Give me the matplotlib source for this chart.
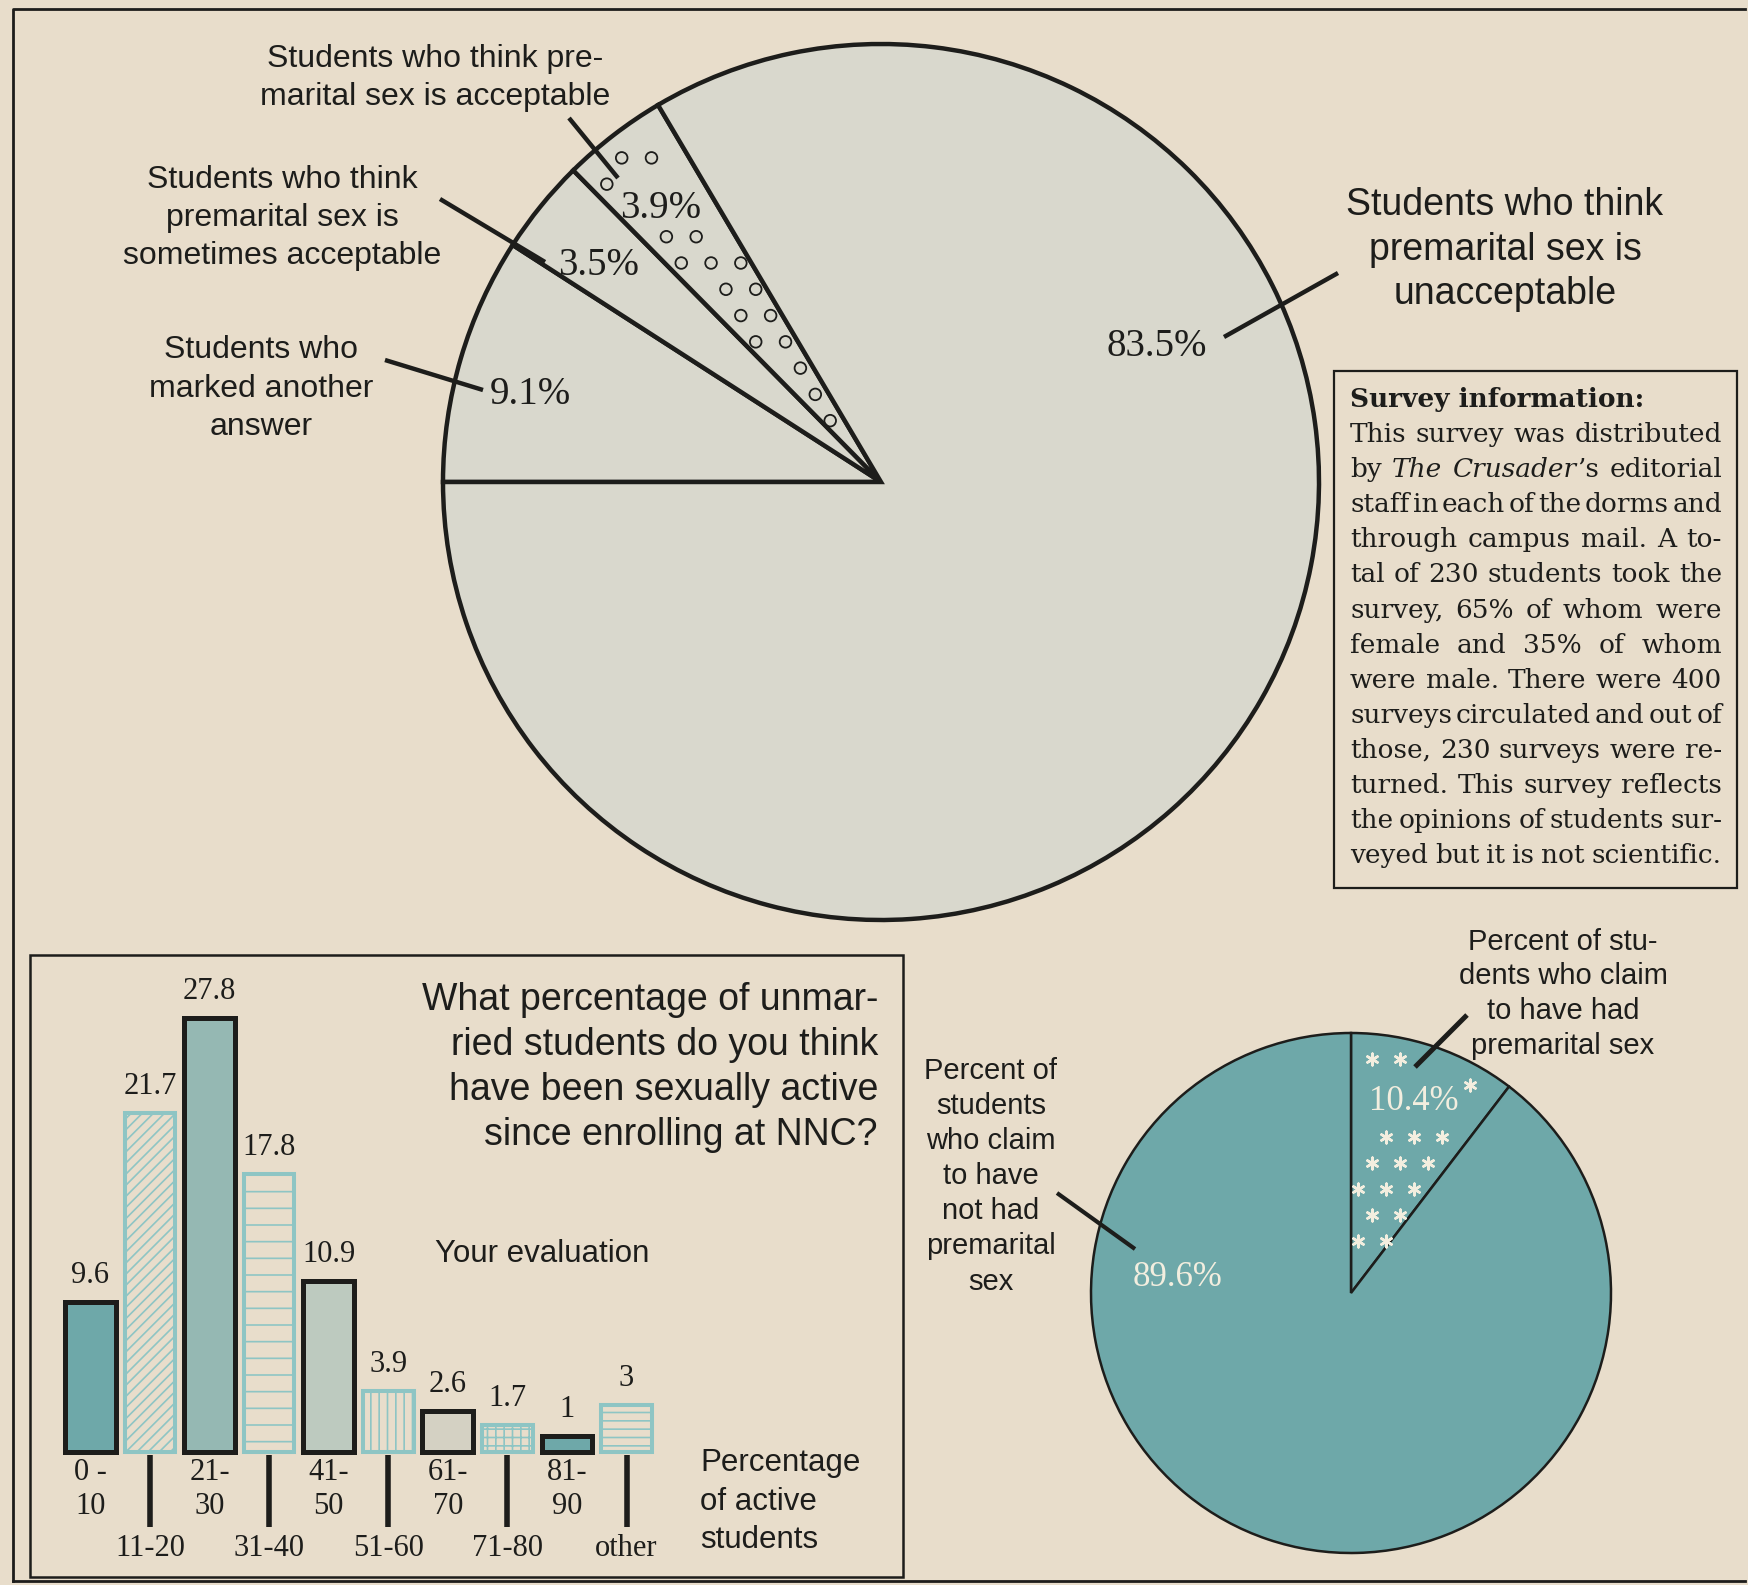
import numpy as np
import matplotlib.pyplot as plt
from matplotlib.patches import Rectangle, Wedge
from matplotlib.transforms import blended_transform_factory

W, H = 1748, 1585

# is premarital sex acceptable?  (other answer, sometimes, acceptable, unacceptable)
opinion_pct = [9.1, 3.5, 3.9, 83.5]
# students who claim to have had premarital sex  (had, not had)
active_pct = [10.4, 89.6]
# "what percentage of unmarried students ... sexually active"
guess_bins = ['0 -\n10', '11-20', '21-\n30', '31-40', '41-\n50',
              '51-60', '61-\n70', '71-80', '81-\n90', 'other']
guess_vals = [9.6, 21.7, 27.8, 17.8, 10.9, 3.9, 2.6, 1.7, 1, 3]

survey_head = 'Survey information:'
survey_lines = [
    'This survey was distributed',
    'by _The_ _Crusader_\u2019s editorial',
    'staff in each of the dorms and',
    'through campus mail.  A to-',
    'tal of 230 students took the',
    'survey, 65% of whom were',
    'female and 35% of whom',
    'were male.  There were 400',
    'surveys circulated and out of',
    'those, 230 surveys were re-',
    'turned.  This survey reflects',
    'the opinions of students sur-',
    'veyed but it is not scientific.',
]

SANS = 'Liberation Sans'
SERIF = 'Liberation Serif'
BOX_SERIF = 'DejaVu Serif'
PAPER = '#e8ddcb'
PIE_GRAY = '#d9d8cd'
TEAL = '#6ea8a9'
LTEAL = '#8ec5c4'
INK = '#1d1d1b'
STAR = '#f3eedf'

plt.rcParams['hatch.linewidth'] = 1.2

fig = plt.figure(figsize=(W / 100, H / 100), dpi=100)
fig.patch.set_facecolor(PAPER)

# background layer (pixel coords, y down)
bg = fig.add_axes([0, 0, 1, 1], zorder=0)
bg.set_xlim(0, W)
bg.set_ylim(H, 0)
bg.axis('off')
# foreground layer for text and leader lines
fg = fig.add_axes([0, 0, 1, 1], zorder=10)
fg.set_xlim(0, W)
fg.set_ylim(H, 0)
fg.axis('off')

# frames
bg.plot([13, 13, W - 3], [1581, 9, 9], color=INK, lw=2)
bg.plot([13, W - 3], [1581, 1581], color=INK, lw=2)
bg.add_patch(Rectangle((30, 955), 873, 622, fill=False, ec=INK, lw=1.8))
bg.add_patch(Rectangle((1334, 371), 403, 517, fill=False, ec=INK, lw=1.6))


def pie_axes(cx, cy, r, pad=1.04):
    rr = r * pad
    a = fig.add_axes([(cx - rr) / W, (H - cy - rr) / H, 2 * rr / W, 2 * rr / H], zorder=2)
    return a, pad


def pattern_points(wedge, r_out, r_in, inset, step_x, step_y, avoid, avoid_half):
    # lattice of decoration points that fall inside a slice, away from its label
    area = Wedge((0, 0), r_out, wedge.theta1 + inset, wedge.theta2 - inset, width=r_out - r_in)
    gx, gy = np.meshgrid(np.arange(-1, 1, step_x), np.arange(-1, 1, step_y))
    gx[::2] += step_x / 2
    pts = np.c_[gx.ravel(), gy.ravel()]
    keep = area.get_path().contains_points(pts)
    keep &= ~((np.abs(pts[:, 0] - avoid[0]) < avoid_half[0]) &
              (np.abs(pts[:, 1] - avoid[1]) < avoid_half[1]))
    return pts[keep]


# ---- big pie
BC, BR = (881, 482), 438
pa, pad = pie_axes(BC[0], BC[1], BR)
wedges, _ = pa.pie(opinion_pct, startangle=180, counterclock=False,
                   colors=[PIE_GRAY] * 4,
                   wedgeprops=dict(edgecolor=INK, linewidth=3.2))
pa.set_xlim(-pad, pad)
pa.set_ylim(-pad, pad)
pa.axis('off')

pct_pos = [(530, 390), (599, 261), (661, 204), (1157, 342)]
lab = pct_pos[2]
pts = pattern_points(wedges[2], 0.95, 0.12, 2.0, 0.068, 0.06,
                     ((lab[0] - BC[0]) / BR, (BC[1] - lab[1]) / BR), (0.115, 0.058))
pa.scatter(pts[:, 0], pts[:, 1], s=70, facecolors='none', edgecolors=INK, linewidths=1.3)

# ---- small pie
SC, SR = (1351, 1293), 260
sa, spad = pie_axes(SC[0], SC[1], SR)
swedges, _ = sa.pie(active_pct, startangle=90, counterclock=False,
                    colors=[TEAL, TEAL],
                    wedgeprops=dict(edgecolor=INK, linewidth=1.8))
sa.set_xlim(-spad, spad)
sa.set_ylim(-spad, spad)
sa.axis('off')

spct_pos = [(1414, 1098), (1178, 1273)]
lab = spct_pos[0]
pts = pattern_points(swedges[0], 0.94, 0.1, 2.5, 0.108, 0.1,
                     ((lab[0] - SC[0]) / SR, (SC[1] - lab[1]) / SR), (0.19, 0.08))
sa.scatter(pts[:, 0], pts[:, 1], s=70, marker=(6, 2, 0), color=STAR, linewidths=1.8)

# ---- bar chart
base_y = 1451.5
px_per_unit = 15.6
bx = fig.add_axes([60.5 / W, (H - base_y) / H, 595.8 / W, 30 * px_per_unit / H], zorder=2)
bx.set_xlim(-0.5, 9.5)
bx.set_ylim(0, 30)
bx.axis('off')

bar_faces = [TEAL, PAPER, '#95b8b3', PAPER, '#bdcabf', PAPER, '#d4d1c3', PAPER, TEAL, PAPER]
bar_edges = [INK, LTEAL, INK, LTEAL, INK, LTEAL, INK, LTEAL, INK, LTEAL]
bar_hatch = [None, '///', None, '-', None, '||', None, '++', None, '--']

x = np.arange(len(guess_vals))
bars = bx.bar(x, guess_vals, width=0.85)
for i, b in enumerate(bars):
    b.set_facecolor(bar_faces[i])
    b.set_edgecolor(bar_edges[i])
    b.set_linewidth(3.6 if bar_edges[i] == INK else 2.9)
    if bar_hatch[i]:
        b.set_hatch(bar_hatch[i])
    b.set_clip_on(False)
    bx.annotate(f'{guess_vals[i]:g}', (i, guess_vals[i]), xytext=(0, 30),
                textcoords='offset pixels', ha='center', va='center_baseline',
                fontsize=22, family=SERIF, color=INK)

xt = blended_transform_factory(bx.transData, bg.transData)
for i, lab in enumerate(guess_bins):
    if i % 2 == 0:
        l1, l2 = lab.split('\n')
        fg.text(i, base_y + 18, l1, transform=xt, ha='center', va='center_baseline',
                fontsize=22, family=SERIF, color=INK)
        fg.text(i, base_y + 52, l2, transform=xt, ha='center', va='center_baseline',
                fontsize=22, family=SERIF, color=INK)
    else:
        fg.plot([i, i], [base_y + 3, base_y + 75], transform=xt, color=INK, lw=4,
                solid_capstyle='butt')
        fg.text(i, base_y + 94, lab, transform=xt, ha='center', va='center_baseline',
                fontsize=22, family=SERIF, color=INK)


def put_lines(x, y0, step, lines, **kw):
    for k, s in enumerate(lines):
        fg.text(x, y0 + k * step, s, va='center_baseline', color=INK, **kw)


# labels of big pie
put_lines(435, 56, 38, ['Students who think pre-', 'marital sex is acceptable'],
          ha='center', fontsize=23, family=SANS)
put_lines(282, 176, 38.4, ['Students who think', 'premarital sex is', 'sometimes acceptable'],
          ha='center', fontsize=23, family=SANS)
put_lines(261, 347, 38.4, ['Students who', 'marked another', 'answer'],
          ha='center', fontsize=23, family=SANS)
put_lines(1505, 201, 44.6, ['Students who think', 'premarital sex is', 'unacceptable'],
          ha='center', fontsize=27, family=SANS)

for v, (px, py) in zip(opinion_pct, pct_pos):
    fg.text(px, py, f'{v}%', ha='center', va='center_baseline', fontsize=28,
            family=SERIF, color=INK)

leaders = [((385, 360), (483, 390)), ((440, 199), (545, 262)),
           ((569, 118), (618, 178)), ((1224, 337), (1338, 273))]
for (x0, y0), (x1, y1) in leaders:
    fg.plot([x0, x1], [y0, y1], color=INK, lw=3.2, solid_capstyle='butt')

# labels of small pie
put_lines(1563, 939, 34.5, ['Percent of stu-', 'dents who claim', 'to have had', 'premarital sex'],
          ha='center', fontsize=21, family=SANS)
put_lines(991, 1068, 35.1, ['Percent of', 'students', 'who claim', 'to have', 'not had',
                            'premarital', 'sex'],
          ha='center', fontsize=21, family=SANS)
for v, (px, py) in zip(active_pct, spct_pos):
    fg.text(px, py, f'{v}%', ha='center', va='center_baseline', fontsize=25,
            family=SERIF, color=STAR)
fg.plot([1467, 1415], [1015, 1067], color=INK, lw=3.6, solid_capstyle='butt')
fg.plot([1057, 1135], [1193, 1249], color=INK, lw=3.0, solid_capstyle='butt')

# bar chart texts
put_lines(878, 996, 45, ['What percentage of unmar-', 'ried students do you think',
                         'have been sexually active', 'since enrolling at NNC?'],
          ha='right', fontsize=27, family=SANS)
fg.text(542, 1250, 'Your evaluation', ha='center', va='center_baseline', fontsize=22.5,
        family=SANS, color=INK)
put_lines(700, 1460, 38.5, ['Percentage', 'of active', 'students'],
          ha='left', fontsize=22.5, family=SANS)

# survey box, justified
rend = fig.canvas.get_renderer()


def justify(line, x0, x1, y, size):
    words = []
    for wd in line.split():
        segs = [(p, 'italic' if j % 2 else 'normal') for j, p in enumerate(wd.split('_')) if p]
        ts, ws = [], []
        for p, sty in segs:
            t = fg.text(0, y, p, fontsize=size, family=BOX_SERIF, style=sty,
                        va='center_baseline', color=INK)
            ts.append(t)
            ws.append(t.get_window_extent(rend).width)
        words.append((ts, ws))
    total = sum(sum(ws) for _, ws in words)
    gap = (x1 - x0 - total) / max(len(words) - 1, 1)
    xx = x0
    for ts, ws in words:
        for t, wdt in zip(ts, ws):
            t.set_x(xx)
            xx += wdt
        xx += gap


fg.text(1350, 397, survey_head, fontsize=19, family=BOX_SERIF, weight='bold',
        va='center_baseline', color=INK)
for k, line in enumerate(survey_lines):
    justify(line, 1350, 1722, 397 + (k + 1) * 35.1, 19)

plt.savefig('out.png', dpi=100, facecolor=PAPER)
